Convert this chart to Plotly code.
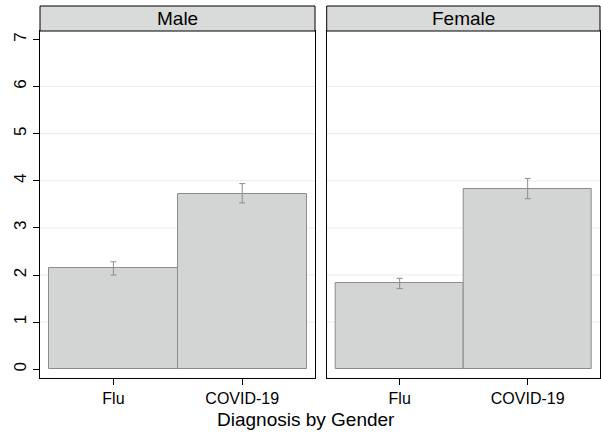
import plotly.graph_objects as go

categories = ["Flu", "COVID-19"]
panels = ["Male", "Female"]
male_mean = [2.14, 3.73]
male_upper = [2.28, 3.94]
male_lower = [2.00, 3.53]
female_mean = [1.82, 3.83]
female_upper = [1.93, 4.05]
female_lower = [1.71, 3.62]
y_ticks = [0, 1, 2, 3, 4, 5, 6, 7]
x_title = "Diagnosis by Gender"

FONT = "Liberation Sans, Arial, Helvetica, sans-serif"
BAR_FILL = "#d3d4d4"
BAR_LINE = "#8c8c8c"
GRID = "#ebebeb"

W, H = 601, 436
dom_x1 = [40 / W, 315 / W]
dom_x2 = [326.7 / W, 600 / W]
dom_y = [(H - 377.7) / H, (H - 31) / H]
strip_top = (H - 6) / H

fig = go.Figure()

series = [(male_mean, male_upper, male_lower, "x", "y"),
          (female_mean, female_upper, female_lower, "x2", "y2")]
for mean, up, lo, xa, ya in series:
    fig.add_trace(go.Bar(
        x=categories, y=mean, width=1.0,
        marker=dict(color=BAR_FILL, line=dict(color=BAR_LINE, width=1)),
        error_y=dict(type="data", symmetric=False,
                     array=[u - m for u, m in zip(up, mean)],
                     arrayminus=[m - l for m, l in zip(mean, lo)],
                     color=BAR_LINE, thickness=1, width=3),
        xaxis=xa, yaxis=ya, showlegend=False, hoverinfo="skip",
    ))

x_range = [-0.57, 1.565]
y_range = [-0.18, 7.18]

axis_common = dict(showline=True, linecolor="black", linewidth=1, mirror=True,
                   tickcolor="black", ticklen=6,
                   zeroline=False, showgrid=False)

fig.update_layout(
    width=W, height=H, margin=dict(l=0, r=0, t=0, b=0),
    paper_bgcolor="white", plot_bgcolor="white",
    bargap=0,
    xaxis=dict(domain=dom_x1, range=x_range, type="category", ticks="outside",
               tickfont=dict(family=FONT, size=16, color="black"), **axis_common),
    xaxis2=dict(domain=dom_x2, range=x_range, type="category", ticks="outside",
                tickfont=dict(family=FONT, size=16, color="black"), **axis_common),
    yaxis=dict(domain=dom_y, range=y_range, tickvals=y_ticks, tickangle=-90,
               anchor="x", ticks="outside",
               tickfont=dict(family=FONT, size=17, color="black"), **axis_common),
    yaxis2=dict(domain=dom_y, range=y_range, tickvals=y_ticks, anchor="x2",
                showticklabels=False, ticks="", **axis_common),
)

shapes = []
for xref, yref in [("x domain", "y"), ("x2 domain", "y2")]:
    for t in y_ticks[1:-1]:
        shapes.append(dict(type="line", xref=xref, yref=yref, x0=0, x1=1, y0=t, y1=t,
                           line=dict(color=GRID, width=1), layer="below"))
annotations = []
for dom, name in zip([dom_x1, dom_x2], panels):
    shapes.append(dict(type="rect", xref="paper", yref="paper",
                       x0=dom[0], x1=dom[1], y0=dom_y[1], y1=strip_top,
                       fillcolor="#d9dada", line=dict(color="black", width=1)))
    annotations.append(dict(text=name, xref="paper", yref="paper",
                            x=(dom[0] + dom[1]) / 2, y=(dom_y[1] + strip_top) / 2,
                            xanchor="center", yanchor="middle", showarrow=False,
                            font=dict(family=FONT, size=19, color="black")))
annotations.append(dict(text=x_title, xref="paper", yref="paper",
                        x=306 / W, y=(H - 419) / H, xanchor="center", yanchor="middle",
                        showarrow=False, font=dict(family=FONT, size=19, color="black")))
fig.update_layout(shapes=shapes, annotations=annotations)

fig.write_html("out.html")
